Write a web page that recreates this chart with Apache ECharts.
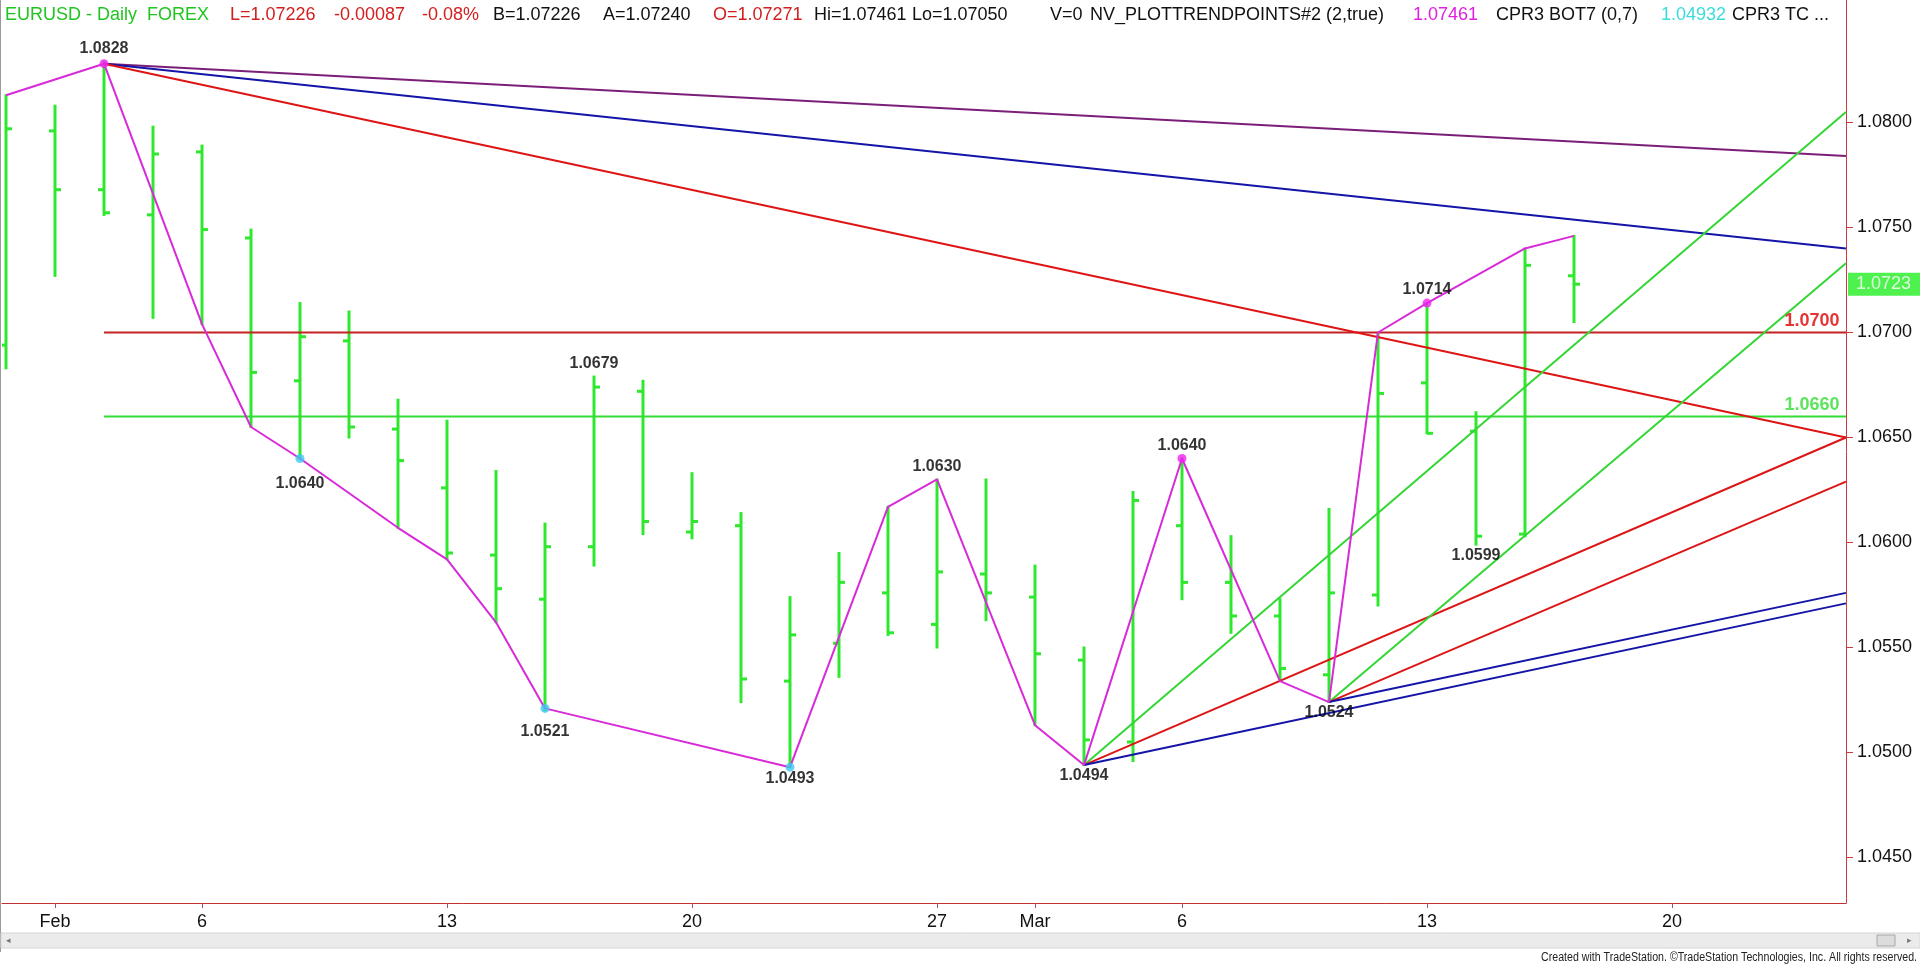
<!DOCTYPE html>
<html><head><meta charset="utf-8">
<script src="https://cdn.jsdelivr.net/npm/echarts@6/dist/echarts.min.js"></script>
<style>html,body{margin:0;padding:0;background:#fff;overflow:hidden}#c{width:1920px;height:964px}</style>
</head><body><div id="c"></div><script>
// ---- data ----
const dates = ['Jan 31','Feb 1','Feb 2','Feb 3','Feb 6','Feb 7','Feb 8','Feb 9','Feb 10','Feb 13','Feb 14','Feb 15','Feb 16','Feb 17','Feb 20','Feb 21','Feb 22','Feb 23','Feb 24','Feb 27','Feb 28','Mar 1','Mar 2','Mar 3','Mar 6','Mar 7','Mar 8','Mar 9','Mar 10','Mar 13','Mar 14','Mar 15','Mar 16'];
const opens  = [1.0694,1.0796,1.0768,1.0756,1.0786,1.0745,1.0677,1.0696,1.0654,1.0626,1.0594,1.0573,1.0598,1.0672,1.0605,1.0608,1.0534,1.0552,1.0576,1.0561,1.0585,1.0574,1.0544,1.0505,1.0608,1.0581,1.0565,1.0537,1.0575,1.0676,1.0653,1.0604,1.0727];
const highs  = [1.0813,1.0808,1.0829,1.0798,1.0789,1.0749,1.0714,1.0710,1.0668,1.0658,1.0634,1.0609,1.0679,1.0677,1.0633,1.0614,1.0574,1.0595,1.0617,1.0630,1.0630,1.0589,1.0550,1.0624,1.0640,1.0603,1.0573,1.0616,1.0699,1.0714,1.0662,1.0740,1.0746];
const lows   = [1.0683,1.0727,1.0756,1.0707,1.0704,1.0655,1.0640,1.0650,1.0607,1.0592,1.0562,1.0520,1.0589,1.0604,1.0602,1.0524,1.0493,1.0536,1.0556,1.0550,1.0563,1.0513,1.0494,1.0496,1.0573,1.0557,1.0534,1.0524,1.0570,1.0652,1.0599,1.0603,1.0705];
const closes = [1.0797,1.0768,1.0757,1.0785,1.0749,1.0681,1.0698,1.0655,1.0639,1.0595,1.0578,1.0598,1.0674,1.0610,1.0610,1.0535,1.0556,1.0581,1.0557,1.0586,1.0576,1.0547,1.0506,1.0620,1.0581,1.0565,1.0540,1.0576,1.0671,1.0652,1.0603,1.0732,1.0723];

const tickIndex  = [1,4,9,14,19,21,24,29,34];
const tickLabels = ['Feb','6','13','20','27','Mar','6','13','20'];
const priceTicks = [1.045,1.050,1.055,1.060,1.065,1.070,1.075,1.080];

const swingIndex = [0,2,4,5,6,8,9,10,11,16,18,19,21,22,24,26,27,28,29,31,32];
const swingValue = [1.0813,1.0828,1.0704,1.0655,1.0640,1.0607,1.0592,1.0562,1.0521,1.0493,1.0617,1.0630,1.0513,1.0494,1.0640,1.0534,1.0524,1.0700,1.0714,1.0740,1.0746];
const pivotHighIndex = [2,24,29];
const pivotLowIndex  = [6,11,16];

const swingLabelIndex = [2,6,12,11,16,19,22,24,27,29,30];
const swingLabelValue = [1.0828,1.0640,1.0679,1.0521,1.0493,1.0630,1.0494,1.0640,1.0524,1.0714,1.0599];

const levelRed = 1.0700, levelGreen = 1.0660, levelStart = 2;
const purpleLine = [[2,1.0828],[37.55,1.0784]];
const blueHighLine = [[2,1.0828],[37.55,1.0740]];
const redHighLine = [[2,1.0828],[37.55,1.0650]];
const greenLowLine1 = [[22,1.0494],[37.55,1.0805]];
const redLowLine1 = [[22,1.0494],[37.55,1.0650]];
const blueLowLine1 = [[22,1.0494],[37.55,1.0571]];
const greenLowLine2 = [[27,1.0524],[37.55,1.0733]];
const redLowLine2 = [[27,1.0524],[37.55,1.0629]];
const blueLowLine2 = [[27,1.0524],[37.55,1.0576]];

const headerParts = ['EURUSD - Daily  FOREX','L=1.07226','-0.00087','-0.08%','B=1.07226','A=1.07240','O=1.07271','Hi=1.07461','Lo=1.07050','V=0','NV_PLOTTRENDPOINTS#2 (2,true)','1.07461','CPR3 BOT7 (0,7)','1.04932','CPR3 TC ...'];

// ---- layout / styles ----
const XMIN = -0.0816, XMAX = 37.551, YMIN = 1.042833, YMAX = 1.085833;
const BAR = '#2ee82e';
const FONT = '"Liberation Sans", Arial, sans-serif';
const headerX = [5,230,334,422,493,603,713,814,912,1050,1090,1413,1496,1661,1732];
const headerColor = ['#22c422','#d21e1e','#d21e1e','#d21e1e','#111','#111','#d21e1e','#111','#111','#111','#111','#e020e0','#111','#3cdcdc','#111'];

const ohlc = dates.map((d,i)=>[i, opens[i], closes[i], lows[i], highs[i]]);

function lineSeries(data, color, width){
  return {type:'line', data, symbol:'none', silent:true, clip:true,
    lineStyle:{color, width}, z:3};
}

const swingLabels = swingLabelIndex.map((idx,k)=>{
  const v = swingLabelValue[k];
  const above = v > (highs[idx]+lows[idx])/2;
  let dist = above ? 5 : 3;
  if (idx===2) dist = 7;
  if (idx===6) dist = 17;
  if (idx===11) dist = 15;
  return {value:[idx, v], label:{position: above?'top':'bottom', distance: dist, formatter: v.toFixed(4)}};
});

const graphics = [
  {type:'line', shape:{x1:0.5,y1:0,x2:0.5,y2:952}, style:{stroke:'#9a9a9a', lineWidth:1}, z:10},
  {type:'rect', shape:{x:1,y:933,width:1919,height:15}, style:{fill:'#ebebeb', stroke:'#d6d6d6', lineWidth:1}, z:10},
  {type:'text', x:6, y:940.5, style:{text:'◂', fill:'#777', font:'9px '+FONT, textVerticalAlign:'middle'}, z:11},
  {type:'rect', shape:{x:1877,y:935,width:18,height:11}, style:{fill:'#dcdcdc', stroke:'#a8a8a8', lineWidth:1}, z:11},
  {type:'text', x:1907, y:940.5, style:{text:'▸', fill:'#777', font:'9px '+FONT, textVerticalAlign:'middle'}, z:11},
  {type:'text', x:1917, y:958, scaleX:0.885, style:{text:'Created with TradeStation. ©TradeStation Technologies, Inc. All rights reserved.', fill:'#222', font:'12px '+FONT, textAlign:'right', textVerticalAlign:'middle'}, z:11}
];
headerParts.forEach((t,i)=>{
  graphics.push({type:'text', x:headerX[i], y:15, style:{text:t, fill:headerColor[i], font:'18px '+FONT, textVerticalAlign:'middle'}, z:12});
});

const chart = echarts.init(document.getElementById('c'), null, {renderer:'canvas'});
chart.setOption({
  animation:false,
  backgroundColor:'#fff',
  grid:{left:2, right:74, top:0, bottom:61, containLabel:false},
  xAxis:{type:'value', min:XMIN, max:XMAX,
    axisLine:{show:true, onZero:false, lineStyle:{color:'#c43030', width:1}},
    axisTick:{show:true, inside:false, length:5, customValues:tickIndex, lineStyle:{color:'#a05858'}},
    axisLabel:{show:true, customValues:tickIndex, margin:10, color:'#111', fontSize:18, fontFamily:FONT,
      formatter:(v)=>{const k=tickIndex.indexOf(Math.round(v)); return k>=0?tickLabels[k]:'';}},
    splitLine:{show:false}},
  yAxis:{type:'value', position:'right', min:YMIN, max:YMAX,
    axisLine:{show:true, onZero:false, lineStyle:{color:'#d03a3a', width:1}},
    axisTick:{show:true, inside:false, length:7, customValues:priceTicks, lineStyle:{color:'#d03a3a'}},
    axisLabel:{show:true, customValues:priceTicks, margin:11, color:'#111', fontSize:18, fontFamily:FONT,
      formatter:(v)=>v.toFixed(4)},
    splitLine:{show:false}},
  graphic: graphics,
  series:[
    {type:'custom', data:ohlc, clip:true, z:2, silent:true,
      encode:{x:0, y:[1,2,3,4]},
      renderItem:(params, api)=>{
        const x = api.value(0);
        const o = api.coord([x, api.value(1)]);
        const c = api.coord([x, api.value(2)]);
        const l = api.coord([x, api.value(3)]);
        const h = api.coord([x, api.value(4)]);
        const st = {stroke:BAR, lineWidth:3};
        return {type:'group', children:[
          {type:'line', shape:{x1:h[0],y1:h[1]-1,x2:l[0],y2:l[1]+1}, style:st},
          {type:'line', shape:{x1:o[0]-6,y1:o[1],x2:o[0],y2:o[1]}, style:st},
          {type:'line', shape:{x1:c[0],y1:c[1],x2:c[0]+6,y2:c[1]}, style:st}
        ]};
      }},
    lineSeries([[levelStart,levelRed],[XMAX,levelRed]], '#c42222', 2),
    lineSeries([[levelStart,levelGreen],[XMAX,levelGreen]], '#33dd33', 2),
    lineSeries(purpleLine, '#7a1e78', 2),
    lineSeries(blueHighLine, '#1414a8', 2),
    lineSeries(redHighLine, '#dd1515', 2),
    lineSeries(greenLowLine1, '#33d633', 2),
    lineSeries(redLowLine1, '#dd1515', 2),
    lineSeries(blueLowLine1, '#1414a8', 2),
    lineSeries(greenLowLine2, '#33d633', 2),
    lineSeries(redLowLine2, '#dd1515', 2),
    lineSeries(blueLowLine2, '#1414a8', 2),
    {type:'line', data:swingIndex.map((idx,k)=>[idx, swingValue[k]]), symbol:'none', silent:true,
      lineStyle:{color:'#d82ad8', width:2}, z:4},
    {type:'scatter', data:pivotHighIndex.map(idx=>[idx, swingValue[swingIndex.indexOf(idx)]]), symbol:'circle', symbolSize:9,
      itemStyle:{color:'#f020f0'}, z:5, silent:true},
    {type:'scatter', data:pivotLowIndex.map(idx=>[idx, swingValue[swingIndex.indexOf(idx)]]), symbol:'circle', symbolSize:9,
      itemStyle:{color:'#40c8f0'}, z:5, silent:true},
    {type:'scatter', data:swingLabels, symbolSize:0, z:6, silent:true, clip:false,
      label:{show:true, color:'#000', fontSize:16, fontWeight:'bold', fontFamily:FONT}},
    {type:'scatter', data:[[37.42, levelRed]], symbolSize:0, z:6, silent:true, clip:false,
      label:{show:true, position:'top', align:'right', distance:2, formatter:levelRed.toFixed(4), color:'#e00000', fontSize:18, fontWeight:'bold', fontFamily:FONT}},
    {type:'scatter', data:[[37.42, levelGreen]], symbolSize:0, z:6, silent:true, clip:false,
      label:{show:true, position:'top', align:'right', distance:2, formatter:levelGreen.toFixed(4), color:'#33dd33', fontSize:18, fontWeight:'bold', fontFamily:FONT}},
    {type:'scatter', data:[[XMAX, closes[closes.length-1]]], symbolSize:0, z:7, silent:true, clip:false,
      label:{show:true, position:'right', distance:2, formatter:(p)=>p.value[1].toFixed(4), color:'#fff', backgroundColor:'#22ee22',
        fontSize:18, fontFamily:FONT, padding:[3,9,2,8]}}
  ]
});
</script></body></html>
